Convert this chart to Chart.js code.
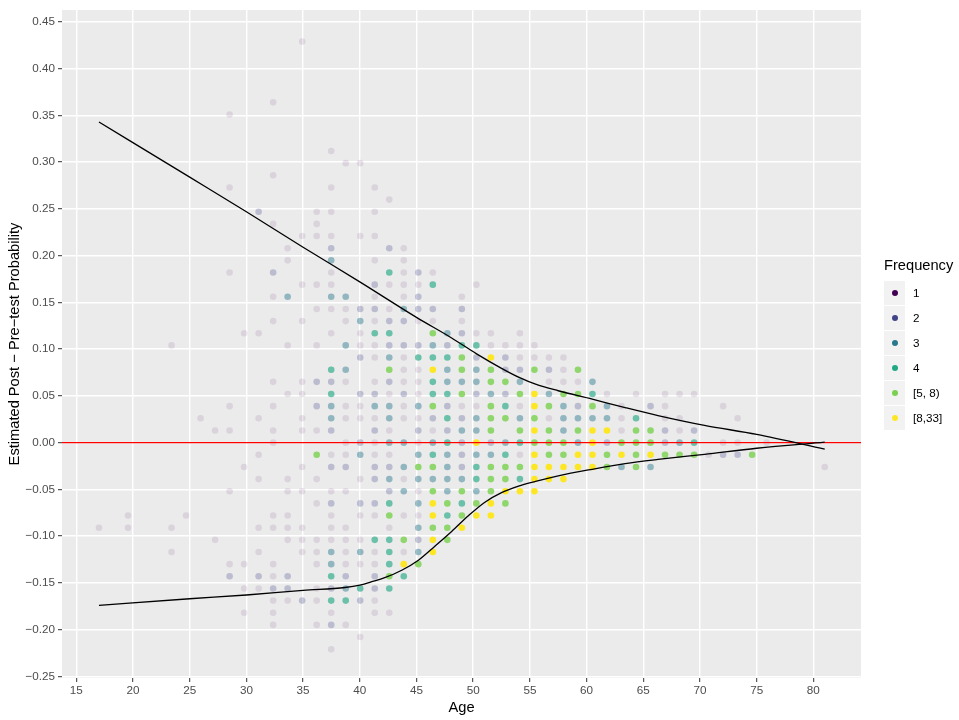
<!DOCTYPE html>
<html>
<head>
<meta charset="utf-8">
<script src="https://cdn.jsdelivr.net/npm/chart.js@4"></script>
<style>
  html, body { margin: 0; padding: 0; background: #ffffff; }
  #wrap { position: relative; width: 959px; height: 720px; font-family: "Liberation Sans", Arial, sans-serif; }
  #c { position: absolute; left: 0; top: 0; }
  #legend { position: absolute; left: 884px; top: 257px; }
  #legend .title { font-size: 14.67px; line-height: 16px; color: #000; margin-bottom: 7px; }
  #legend .row { display: flex; align-items: center; height: 25px; }
  #legend .key { width: 21px; height: 24px; background: #F2F2F2; display: flex; align-items: center; justify-content: center; margin-right: 8px; }
  #legend .dot { width: 6px; height: 6px; border-radius: 50%; }
  #legend .lab { font-size: 11.7px; color: #000; }
</style>
</head>
<body>
<div id="wrap">
  <canvas id="c" width="959" height="720"></canvas>
  <div id="legend"></div>
</div>
<script>
// ---- axis settings / tick labels ----
const xLimits = [13.74, 84.2];
const yLimits = [-0.2518, 0.4628];
const xTicks = [15, 20, 25, 30, 35, 40, 45, 50, 55, 60, 65, 70, 75, 80];
const yTicks = [-0.25, -0.2, -0.15, -0.1, -0.05, 0, 0.05, 0.1, 0.15, 0.2, 0.25, 0.3, 0.35, 0.4, 0.45];
const yTickLabels = ['\u22120.25', '\u22120.20', '\u22120.15', '\u22120.10', '\u22120.05', '0.00', '0.05', '0.10', '0.15', '0.20', '0.25', '0.30', '0.35', '0.40', '0.45'];
const refLineValue = 0;

// ---- legend categories ----
const freqLabels = ['1', '2', '3', '4', '[5, 8)', '[8,33]'];
const freqColors = ['#440154', '#414487', '#2A788E', '#22A884', '#7AD151', '#FDE725'];
const freqAlpha = [0.1, 0.28, 0.46, 0.64, 0.82, 1.0];

// ---- points: [age, estimated post - pre-test probability] by frequency ----
const freq1Points = [
  [34.92,0.429],[32.36,0.364],[28.52,0.351],[37.48,0.312],[38.76,0.299],[32.36,0.286],[28.52,0.273],[37.48,0.273],
  [36.20,0.247],[37.48,0.247],[32.36,0.234],[36.20,0.234],[34.92,0.221],[36.20,0.221],[37.48,0.221],[33.64,0.208],
  [33.64,0.195],[28.52,0.182],[37.48,0.182],[34.92,0.169],[36.20,0.169],[37.48,0.169],[32.36,0.156],[36.20,0.143],
  [37.48,0.143],[38.76,0.143],[32.36,0.130],[34.92,0.130],[38.76,0.130],[29.80,0.117],[31.08,0.117],[37.48,0.117],
  [23.40,0.104],[33.64,0.104],[36.20,0.104],[32.36,0.065],[34.92,0.065],[38.76,0.065],[33.64,0.052],[34.92,0.052],
  [28.52,0.039],[32.36,0.039],[38.76,0.039],[25.96,0.026],[31.08,0.026],[34.92,0.026],[38.76,0.026],[27.24,0.013],
  [28.52,0.013],[32.36,0.013],[34.92,0.013],[36.20,0.013],[32.36,0],[38.76,0],
  [31.08,-0.013],[37.48,-0.013],[38.76,-0.013],[29.80,-0.026],[34.92,-0.026],[31.08,-0.039],[33.64,-0.039],[36.20,-0.039],
  [28.52,-0.052],[33.64,-0.052],[34.92,-0.052],[37.48,-0.052],[38.76,-0.052],[36.20,-0.065],[19.56,-0.078],[24.68,-0.078],
  [32.36,-0.078],[33.64,-0.078],[37.48,-0.078],[17.00,-0.091],[19.56,-0.091],[23.40,-0.091],[31.08,-0.091],[32.36,-0.091],
  [33.64,-0.091],[34.92,-0.091],[37.48,-0.091],[38.76,-0.091],[27.24,-0.104],[33.64,-0.104],[34.92,-0.104],[36.20,-0.104],
  [37.48,-0.104],[38.76,-0.104],[23.40,-0.117],[31.08,-0.117],[34.92,-0.117],[36.20,-0.117],[38.76,-0.117],[28.52,-0.130],
  [29.80,-0.130],[32.36,-0.130],[36.20,-0.130],[38.76,-0.130],[32.36,-0.143],[29.80,-0.156],[31.08,-0.156],[36.20,-0.156],
  [32.36,-0.169],[33.64,-0.169],[36.20,-0.169],[29.80,-0.182],[32.36,-0.182],[37.48,-0.182],[32.36,-0.195],[36.20,-0.195],
  [38.76,-0.195],[37.48,-0.221],
  [40.04,0.299],[41.32,0.273],[42.60,0.260],[41.32,0.247],[40.04,0.221],[41.32,0.221],[43.88,0.208],[41.32,0.195],
  [43.88,0.195],[43.88,0.182],[46.44,0.182],
  [42.60,0.169],[43.88,0.169],[45.16,0.169],[50.28,0.169],[41.32,0.156],[43.88,0.156],[49.00,0.156],[42.60,0.143],
  [41.32,0.130],[45.16,0.130],[46.44,0.130],[49.00,0.130],[40.04,0.117],[50.28,0.117],[51.56,0.117],[54.12,0.117],
  [40.04,0.104],[41.32,0.104],[51.56,0.104],[52.84,0.104],[54.12,0.104],[55.40,0.104],[41.32,0.091],[43.88,0.091],
  [54.12,0.091],[55.40,0.091],[43.88,0.078],[45.16,0.078],[41.32,0.065],[43.88,0.065],[45.16,0.065],[42.60,0.052],
  [45.16,0.052],[40.04,0.039],[43.88,0.039],[49.00,0.039],[50.28,0.039],[54.12,0.039],[40.04,0.026],[41.32,0.026],
  [43.88,0.026],[45.16,0.026],[42.60,0.013],[46.44,0.013],[41.32,0],[45.16,0],
  [41.32,-0.013],[42.60,-0.013],[54.12,-0.013],[40.04,-0.039],[43.88,-0.039],[45.16,-0.052],[40.04,-0.078],[41.32,-0.078],
  [43.88,-0.078],[45.16,-0.078],[42.60,-0.091],[40.04,-0.104],[41.32,-0.117],[43.88,-0.117],[40.04,-0.130],[41.32,-0.130],
  [41.32,-0.169],[41.32,-0.182],[42.60,-0.182],[40.04,-0.208],
  [56.68,0.091],[57.96,0.091],[57.96,0.078],[56.68,0.065],[57.96,0.065],[59.24,0.065],[61.80,0.052],[64.36,0.052],
  [66.92,0.052],[68.20,0.052],[69.48,0.052],[63.08,0.039],[66.92,0.039],[56.68,0.026],[63.08,0.026],[66.92,0.026],
  [68.20,0.026],[63.08,0.013],[68.20,0.013],
  [72.04,0.039],[73.32,0.026],[72.04,0],[73.32,0],[75.88,0],[70.76,-0.013],[81.00,-0.026]
];
const freq2Points = [
  [31.08,0.247],[37.48,0.208],[32.36,0.182],[36.20,0.065],[37.48,0.065],[36.20,0.039],[37.48,0.013],[37.48,-0.026],
  [38.76,-0.026],[37.48,-0.065],[28.52,-0.143],[31.08,-0.143],[33.64,-0.143],[38.76,-0.143],[32.36,-0.156],[33.64,-0.156],
  [37.48,-0.156],[34.92,-0.169],[37.48,-0.195],
  [42.60,0.208],[45.16,0.182],[41.32,0.169],[45.16,0.156],[40.04,0.143],[41.32,0.143],[45.16,0.143],[46.44,0.143],
  [49.00,0.143],[42.60,0.130],[43.88,0.130],[49.00,0.117],[42.60,0.104],[43.88,0.104],[45.16,0.104],[47.72,0.104],
  [40.04,0.091],[50.28,0.091],[52.84,0.091],[52.84,0.078],[54.12,0.078],[42.60,0.065],[40.04,0.052],[41.32,0.052],
  [43.88,0.052],[50.28,0.052],[52.84,0.052],[47.72,0.039],[46.44,0.026],[49.00,0.026],[41.32,0.013],[45.16,0.013],
  [47.72,0.013],[40.04,0],[49.00,0],[51.56,0],
  [49.00,-0.013],[41.32,-0.026],[42.60,-0.026],[49.00,-0.026],[41.32,-0.039],[42.60,-0.052],[40.04,-0.065],[41.32,-0.065],
  [45.16,-0.104],[41.32,-0.143],[41.32,-0.156],[40.04,-0.169],
  [56.68,0.078],[59.24,0.039],[65.64,0.039],[66.92,0.013],[69.48,0.013],[61.80,0],[66.92,0],[72.04,-0.013],[73.32,-0.013]
];
const freq3Points = [
  [37.48,0.195],[33.64,0.156],[37.48,0.156],[38.76,0.156],[38.76,0.104],[38.76,0.078],[37.48,0.039],[37.48,0.026],
  [37.48,-0.117],[37.48,-0.130],[38.76,-0.156],
  [43.88,0.143],[40.04,0.130],[47.72,0.117],[46.44,0.104],[42.60,0.091],[47.72,0.078],[50.28,0.078],[47.72,0.065],
  [49.00,0.065],[50.28,0.065],[54.12,0.065],[51.56,0.052],[41.32,0.039],[42.60,0.039],[45.16,0.039],[42.60,0.026],
  [50.28,0.026],[54.12,0.026],[49.00,0.013],[50.28,0.013],[42.60,0],[43.88,0],[46.44,0],[52.84,0],
  [40.04,-0.013],[45.16,-0.013],[47.72,-0.013],[50.28,-0.013],[51.56,-0.013],[43.88,-0.026],[47.72,-0.026],[42.60,-0.039],
  [45.16,-0.039],[46.44,-0.039],[47.72,-0.039],[49.00,-0.039],[43.88,-0.052],[47.72,-0.052],[50.28,-0.052],[45.16,-0.065],
  [45.16,-0.091],[40.04,-0.117],[45.16,-0.117],
  [60.52,0.065],[56.68,0.052],[57.96,0.039],[61.80,0.039],[57.96,0.026],[59.24,0.026],[60.52,0.026],[61.80,0.026],
  [57.96,0.013],[59.24,0],[68.20,0],[63.08,-0.026],[65.64,-0.026]
];
const freq4Points = [
  [37.48,0.078],[37.48,0.052],[37.48,-0.143],[37.48,-0.169],[38.76,-0.169],[42.60,0.182],[46.44,0.169],[41.32,0.117],
  [42.60,0.117],[49.00,0.104],[50.28,0.104],[45.16,0.091],[46.44,0.091],[47.72,0.091],[46.44,0.065],[46.44,0.052],
  [47.72,0.052],[52.84,0.039],[47.72,0.026],[47.72,0],[54.12,0],
  [46.44,-0.013],[52.84,-0.013],[50.28,-0.026],[50.28,-0.039],[54.12,-0.039],[42.60,-0.065],[49.00,-0.065],[47.72,-0.078],
  [41.32,-0.104],[42.60,-0.104],[42.60,-0.117],[42.60,-0.130],[43.88,-0.143],[40.04,-0.156],[42.60,-0.156],
  [60.52,0.052],[64.36,0.026],[69.48,0]
];
const freq5to8Points = [
  [36.20,-0.013],[46.44,0.117],[49.00,0.091],[42.60,0.078],[49.00,0.078],[51.56,0.078],[55.40,0.078],[51.56,0.065],
  [52.84,0.065],[49.00,0.052],[54.12,0.052],[46.44,0.039],[51.56,0.039],[51.56,0.026],[52.84,0.026],[55.40,0.026],
  [51.56,0.013],[54.12,0.013],[55.40,0],
  [45.16,-0.026],[46.44,-0.026],[51.56,-0.026],[52.84,-0.026],[54.12,-0.026],[51.56,-0.039],[52.84,-0.039],[46.44,-0.052],
  [49.00,-0.052],[51.56,-0.052],[47.72,-0.065],[50.28,-0.065],[52.84,-0.065],[42.60,-0.078],[49.00,-0.078],[46.44,-0.091],
  [47.72,-0.091],[43.88,-0.104],[47.72,-0.104],[45.16,-0.130],[42.60,-0.143],
  [59.24,0.078],[57.96,0.052],[59.24,0.052],[56.68,0.039],[60.52,0.039],[56.68,0.013],[59.24,0.013],[64.36,0.013],
  [65.64,0.013],[56.68,0],[57.96,0],[63.08,0],[64.36,0],[65.64,0],[56.68,-0.013],[57.96,-0.013],[61.80,-0.013],
  [64.36,-0.013],[66.92,-0.013],[68.20,-0.013],[69.48,-0.013],[61.80,-0.026],[64.36,-0.026],[74.60,-0.013]
];
const freq8to33Points = [
  [51.56,0.091],[46.44,0.078],[55.40,0.052],[55.40,0.039],[55.40,0.013],[50.28,0],[55.40,-0.013],[55.40,-0.026],
  [55.40,-0.039],[52.84,-0.052],[54.12,-0.052],[55.40,-0.052],[46.44,-0.065],[51.56,-0.065],[46.44,-0.078],[50.28,-0.078],
  [51.56,-0.078],[49.00,-0.091],[46.44,-0.104],[46.44,-0.117],[43.88,-0.130],
  [60.52,0.013],[61.80,0.013],[60.52,0],[59.24,-0.013],[60.52,-0.013],[63.08,-0.013],[65.64,-0.013],[56.68,-0.026],
  [57.96,-0.026],[59.24,-0.026],[60.52,-0.026],[56.68,-0.039],[57.96,-0.039]
];

// ---- fitted boundary curves: [age, value] ----
const upperCurve = [
  [17.0,0.343],[25,0.284],[30,0.247],[35,0.209],[40,0.172],[45,0.134],[48.1,0.112],[50.3,0.095],[52.5,0.0795],
  [54.1,0.0695],[55.5,0.0625],[57.5,0.0555],[60.5,0.0465],[63.4,0.0375],[66.3,0.029],[70.4,0.0185],[75.0,0.0088],[81.0,-0.007]
];
const lowerCurve = [
  [17.0,-0.174],[25,-0.167],[30,-0.163],[35,-0.158],[38.7,-0.155],[40.0,-0.1525],[41.0,-0.149],[42.2,-0.1445],
  [43.7,-0.1365],[45.2,-0.1255],[46.6,-0.111],[48.1,-0.095],[49.6,-0.078],[51.0,-0.064],[52.5,-0.0535],[54.0,-0.0465],
  [55.5,-0.0415],[57.5,-0.0355],[60.5,-0.0285],[63.4,-0.0225],[66.3,-0.018],[70.4,-0.0125],[75.0,-0.006],[81.0,0.0006]
];

// ---- build chart ----
const groups = [freq1Points, freq2Points, freq3Points, freq4Points, freq5to8Points, freq8to33Points];
function rgba(hex, a) {
  const r = parseInt(hex.slice(1,3),16), g = parseInt(hex.slice(3,5),16), b = parseInt(hex.slice(5,7),16);
  return 'rgba(' + r + ',' + g + ',' + b + ',' + a + ')';
}
const toXY = arr => arr.map(p => ({x: p[0], y: p[1]}));

const datasets = [];
groups.forEach((g, i) => {
  datasets.push({
    type: 'scatter',
    label: freqLabels[i],
    data: toXY(g),
    backgroundColor: rgba(freqColors[i], freqAlpha[i]),
    borderWidth: 0,
    pointRadius: 3.3,
    pointHoverRadius: 3.3,
    order: 10
  });
});
datasets.push({
  type: 'line', label: 'zero', data: [{x: xLimits[0], y: refLineValue}, {x: xLimits[1], y: refLineValue}],
  borderColor: '#FF0000', borderWidth: 1.4, pointRadius: 0, order: 2
});
[upperCurve, lowerCurve].forEach((c, i) => {
  datasets.push({
    type: 'line', label: 'curve' + i, data: toXY(c),
    borderColor: '#000000', borderWidth: 1.3, pointRadius: 0, fill: false,
    cubicInterpolationMode: 'monotone', order: 1
  });
});

const panelBg = {
  id: 'panelBg',
  beforeDraw(chart) {
    const {ctx, chartArea: a} = chart;
    ctx.save();
    ctx.fillStyle = '#EBEBEB';
    ctx.fillRect(a.left, a.top, a.right - a.left, a.bottom - a.top);
    ctx.restore();
  }
};

Chart.defaults.font.family = '"Liberation Sans", Arial, sans-serif';
const tickFont = {size: 11.7};
const titleFont = {size: 14.67};

new Chart(document.getElementById('c'), {
  type: 'scatter',
  data: {datasets},
  plugins: [panelBg],
  options: {
    responsive: false,
    animation: false,
    devicePixelRatio: 1,
    events: [],
    layout: {padding: {top: 8, right: 98, left: 0, bottom: 0}},
    plugins: {legend: {display: false}, tooltip: {enabled: false}},
    scales: {
      x: {
        type: 'linear', min: xLimits[0], max: xLimits[1],
        afterBuildTicks: s => { s.ticks = xTicks.map(v => ({value: v})); },
        afterFit: s => { s.height = 42; },
        ticks: {font: tickFont, color: '#4D4D4D', padding: 2, maxRotation: 0, autoSkip: false,
                callback: v => String(v)},
        grid: {color: '#FFFFFF', lineWidth: 1.4, tickColor: '#333333', tickLength: 4, tickWidth: 1},
        border: {display: false},
        title: {display: true, text: 'Age', color: '#000', font: titleFont, padding: {top: 2, bottom: 3}}
      },
      y: {
        type: 'linear', min: yLimits[0], max: yLimits[1],
        afterBuildTicks: s => { s.ticks = yTicks.map(v => ({value: v})); },
        afterFit: s => { s.width = 62; },
        ticks: {font: tickFont, color: '#4D4D4D', padding: 3, autoSkip: false,
                callback: v => yTickLabels[yTicks.indexOf(v)]},
        grid: {color: '#FFFFFF', lineWidth: 1.4, tickColor: '#333333', tickLength: 4, tickWidth: 1},
        border: {display: false},
        title: {display: true, text: 'Estimated Post \u2212 Pre\u2212test Probability', color: '#000', font: titleFont, padding: {top: 6, bottom: 2}}
      }
    }
  }
});

// ---- legend ----
const lg = document.getElementById('legend');
let html = '<div class="title">Frequency</div>';
freqLabels.forEach((l, i) => {
  html += '<div class="row"><div class="key"><div class="dot" style="background:' + freqColors[i] + '"></div></div><div class="lab">' + l + '</div></div>';
});
lg.innerHTML = html;
</script>
</body>
</html>
